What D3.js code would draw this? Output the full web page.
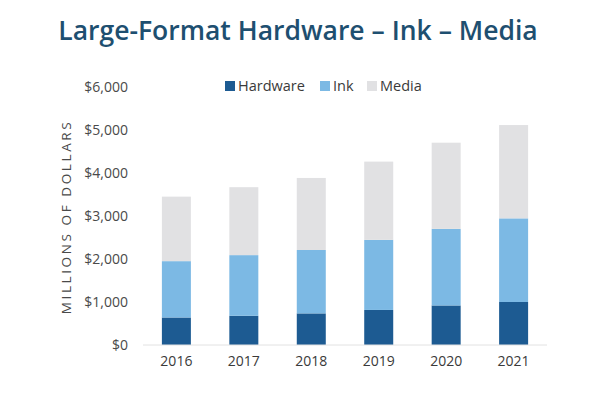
<!DOCTYPE html>
<html>
<head>
<meta charset="utf-8">
<script src="https://cdn.jsdelivr.net/npm/d3@7.9.0/dist/d3.min.js"></script>
<style>
  body { margin: 0; background: #fff; }
  svg { display: block; font-family: "Open Sans", sans-serif; }
</style>
</head>
<body>
<svg id="chart" width="600" height="393"></svg>
<script>
// chart data
const years = ['2016', '2017', '2018', '2019', '2020', '2021'];
const hardware = [640, 680, 735, 815, 920, 1000];
const ink = [1310, 1410, 1475, 1630, 1780, 1945];
const media = [1500, 1580, 1675, 1820, 2005, 2170];
const seriesNames = ['Hardware', 'Ink', 'Media'];
const yTicks = [0, 1000, 2000, 3000, 4000, 5000, 6000];

const colors = d3.scaleOrdinal()
  .domain(seriesNames)
  .range(['#1d5b92', '#7cb9e4', '#e1e1e3']);

const svg = d3.select('#chart');
const margin = { top: 87, right: 53, bottom: 48, left: 143 };
const width = 600 - margin.left - margin.right;
const height = 393 - margin.top - margin.bottom;

const rows = years.map((y, i) => ({
  year: y, Hardware: hardware[i], Ink: ink[i], Media: media[i]
}));
const stacked = d3.stack().keys(seriesNames)(rows);

const x = d3.scaleBand().domain(years).range([0, width]).paddingInner(0.57).paddingOuter(0.28);
const y = d3.scaleLinear().domain([0, 6000]).range([height, 0]);

// title
svg.append('text')
  .attr('x', 298).attr('y', 40)
  .attr('text-anchor', 'middle')
  .attr('font-size', 26.5)
  .attr('font-weight', 600)
  .attr('fill', '#1e4f70')
  .text('Large-Format Hardware – Ink – Media');

const g = svg.append('g').attr('transform', `translate(${margin.left},${margin.top})`);

// bars
g.selectAll('g.series')
  .data(stacked)
  .join('g')
  .attr('class', 'series')
  .attr('fill', (d) => colors(d.key))
  .selectAll('rect')
  .data((d) => d)
  .join('rect')
  .attr('x', (d) => x(d.data.year))
  .attr('width', x.bandwidth())
  .attr('y', (d) => y(d[1]))
  .attr('height', (d) => y(d[0]) - y(d[1]));

// baseline
g.append('line')
  .attr('x1', 0).attr('x2', width)
  .attr('y1', height).attr('y2', height)
  .attr('stroke', '#e2e2e2');

// y axis
const yAxis = g.append('g')
  .call(d3.axisLeft(y).tickValues(yTicks).tickSize(0).tickPadding(15)
    .tickFormat((d) => '$' + d3.format(',')(d)));
yAxis.select('.domain').remove();
yAxis.selectAll('text').attr('font-size', 14).attr('fill', '#4a4a4a').attr('font-family', '"Open Sans", sans-serif');

// x axis
const xAxis = g.append('g')
  .attr('transform', `translate(0,${height})`)
  .call(d3.axisBottom(x).tickSize(0).tickPadding(11));
xAxis.select('.domain').remove();
xAxis.selectAll('text').attr('font-size', 14).attr('fill', '#3a3a3a').attr('font-family', '"Open Sans", sans-serif');

// y label
svg.append('text')
  .attr('transform', 'translate(71,217) rotate(-90)')
  .attr('text-anchor', 'middle')
  .attr('font-size', 13.5)
  .attr('letter-spacing', 2.6)
  .attr('fill', '#4a4a4a')
  .text('MILLIONS OF DOLLARS');

// legend
const legendX = [225, 320, 367];
const legend = svg.append('g');
seriesNames.forEach((name, i) => {
  const item = legend.append('g').attr('transform', `translate(${legendX[i]},81)`);
  item.append('rect').attr('width', 10).attr('height', 10).attr('fill', colors(name));
  item.append('text').attr('x', 13).attr('y', 10)
    .attr('font-size', 14.5).attr('fill', '#3a3a3a')
    .text(name);
});
</script>
</body>
</html>
